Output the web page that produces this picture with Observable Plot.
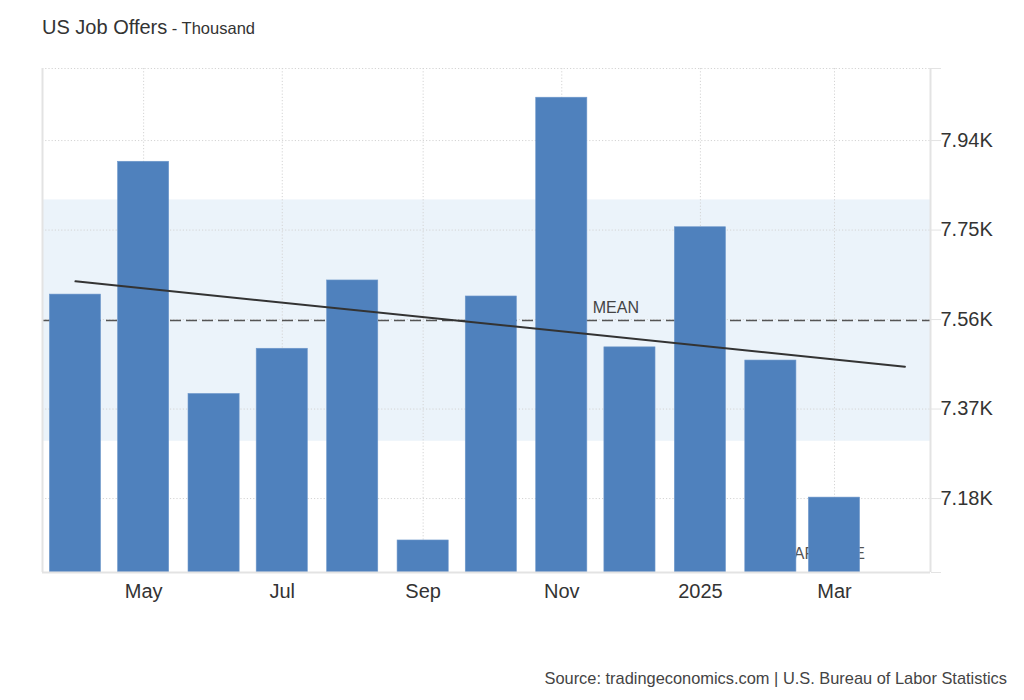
<!DOCTYPE html>
<html>
<head>
<meta charset="utf-8">
<script src="https://cdn.jsdelivr.net/npm/d3@7"></script>
<script src="https://cdn.jsdelivr.net/npm/@observablehq/plot@0.6"></script>
<style>
  html, body { margin: 0; padding: 0; background: #fff; }
  #wrap { position: relative; width: 1024px; height: 700px; font-family: "Liberation Sans", Arial, sans-serif; }
  #title { position: absolute; left: 42px; top: 17px; line-height: 20px; font-size: 20px; color: #333; white-space: nowrap; }
  #title .unit { font-size: 16.5px; }
  #source { position: absolute; right: 17px; top: 670px; line-height: 16px; font-size: 16.4px; color: #444; white-space: nowrap; }
  #chart { position: absolute; left: 0; top: 0; }
</style>
</head>
<body>
<div id="wrap">
  <div id="chart"></div>
  <div id="title">US Job Offers<span class="unit"> - Thousand</span></div>
  <div id="source">Source: tradingeconomics.com | U.S. Bureau of Labor Statistics</div>
</div>
<script>
// Monthly observations Apr 2024 .. Mar 2025 (thousand)
const dates = ["2024-04-01", "2024-05-01", "2024-06-01", "2024-07-01", "2024-08-01", "2024-09-01",
               "2024-10-01", "2024-11-01", "2024-12-01", "2025-01-01", "2025-02-01", "2025-03-01"];
const values = [7613, 7895, 7402, 7498, 7643, 7091, 7609, 8031, 7501, 7756, 7473, 7182];
const xTickDates = ["2024-05-01", "2024-07-01", "2024-09-01", "2024-11-01", "2025-01-01", "2025-03-01"];
const xTickLabels = ["May", "Jul", "Sep", "Nov", "2025", "Mar"];
const yTicks = [7180, 7370, 7560, 7750, 7940];
const yDomain = [7023, 8093];
const xDomain = [new Date("2024-03-17T12:00Z"), new Date("2025-04-12T06:00Z")];
const trendEnd = new Date("2025-04-01");

const DAY = 864e5;
const halfBar = 11.25 * DAY;
const data = values.map((v, i) => ({date: new Date(dates[i]), value: v}));
const xTicks = xTickDates.map(d => new Date(d));
const labelOf = new Map(xTicks.map((d, i) => [+d, xTickLabels[i]]));

const mean = d3.mean(values);
const sd = Math.sqrt(d3.mean(values, v => (v - mean) ** 2));
// least squares trend over time
const t0 = +data[0].date;
const tm = d3.mean(data, d => +d.date - t0);
const slope = d3.sum(data, d => (+d.date - t0 - tm) * (d.value - mean)) / d3.sum(data, d => (+d.date - t0 - tm) ** 2);
const intercept = mean - slope * tm;
const trend = [data[0].date, trendEnd].map(d => ({x: d, y: intercept + slope * (+d - t0)}));

const grid = "#d4d4d4";
const frame = "#e3e3e3";

const chart = Plot.plot({
  width: 1024,
  height: 700,
  marginLeft: 42,
  marginRight: 94,
  marginTop: 68,
  marginBottom: 128,
  style: {fontFamily: "'Liberation Sans', Arial, sans-serif", fontSize: "20px", color: "#333", background: "transparent"},
  x: {type: "utc", domain: xDomain},
  y: {domain: yDomain},
  marks: [
    Plot.rect([0], {x1: xDomain[0], x2: xDomain[1], y1: mean - sd, y2: mean + sd, fill: "#ebf3fa"}),
    Plot.ruleY([...yTicks, yDomain[1]], {stroke: grid, strokeDasharray: "1.2,2"}),
    Plot.ruleX(xTicks, {stroke: grid, strokeDasharray: "1.2,2"}),
    Plot.ruleY([mean], {stroke: "#555", strokeWidth: 1.5, strokeDasharray: "11,5"}),
    Plot.text(["ARCHIVE"], {x: data[10].date, y: yDomain[0], text: d => d, dx: 23, dy: -19, textAnchor: "start", fontSize: 16, fill: "#555"}),
    Plot.rect(data, {x1: d => new Date(+d.date - halfBar), x2: d => new Date(+d.date + halfBar), y1: yDomain[0], y2: "value", fill: "#4f81bd", stroke: "#6f98cb", strokeWidth: 0.6}),
    Plot.line(trend, {x: "x", y: "y", stroke: "#333", strokeWidth: 2}),
    Plot.text(["MEAN"], {x: data[7].date, y: mean, text: d => d, dx: 31, dy: -13, textAnchor: "start", fontSize: 16, fill: "#444"}),
    Plot.ruleX([xDomain[0]], {stroke: frame, strokeWidth: 2}),
    Plot.ruleX([xDomain[1]], {stroke: frame, strokeWidth: 2}),
    Plot.ruleY([yDomain[0]], {stroke: frame, strokeWidth: 2}),
    Plot.axisY({
      anchor: "right",
      ticks: [yDomain[0], ...yTicks, yDomain[1]],
      tickFormat: d => yTicks.includes(d) ? (d / 1000).toFixed(2) + "K" : "",
      tickSize: 10,
      tickPadding: 0,
      stroke: frame,
      fill: "#333",
      fontSize: 20,
      label: null
    }),
    Plot.axisX({
      ticks: xTicks,
      tickFormat: d => labelOf.get(+d),
      tickSize: 0,
      tickPadding: 11,
      fill: "#333",
      fontSize: 20,
      label: null
    })
  ]
});
document.getElementById("chart").appendChild(chart);
</script>
</body>
</html>
